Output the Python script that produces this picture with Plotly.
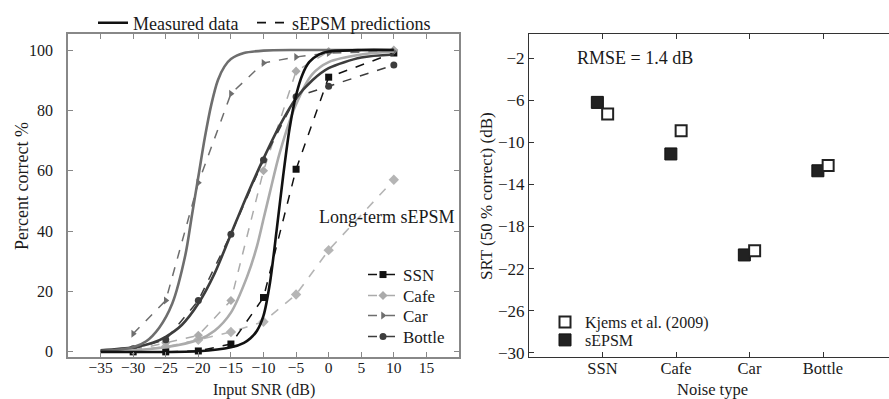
import plotly.graph_objects as go

# ---------------- data: left panel ----------------
noise_types = ["SSN", "Cafe", "Car", "Bottle"]

# measured psychometric functions (solid)
ssn_fit_snr = [-35, -20, -15, -13, -12, -11, -10, -9, -8, -7, -6, -5, -4, -3, -1.5, 0, 5, 10]
ssn_fit_pc = [0, 0.2, 1.5, 3, 4.5, 7, 12, 23, 40, 58, 74, 85, 92, 96, 98.5, 99.5, 100, 100]

cafe_fit_snr = [-35, -30, -25, -20, -17.5, -15, -12.5, -11, -10, -9, -7.5, -5, -2.5, 0, 5, 10]
cafe_fit_pc = [0.2, 0.5, 1.5, 4, 7, 13, 25, 35, 44, 53, 66, 82, 92, 96, 98.5, 99.5]

car_fit_snr = [-35, -32, -30, -28, -26, -24, -22, -21, -20, -19, -18, -17, -16, -15, -13, -10, -5, 0, 5, 10]
car_fit_pc = [0.3, 0.8, 1.5, 3.5, 8, 16, 32, 45, 58, 71, 82, 90, 94.5, 97, 99, 99.8, 100, 100, 100, 100]

bottle_fit_snr = [-35, -30, -27, -25, -22.5, -20, -17.5, -15, -12.5, -10, -7.5, -5, -2.5, 0, 5, 10]
bottle_fit_pc = [0.5, 1.5, 3, 5, 9, 16, 26, 39, 52, 64, 75, 84, 90, 94, 97.5, 98.5]

# sEPSM predictions (dashed with markers)
pred_snr = [-30, -25, -20, -15, -10, -5, 0, 10]
ssn_pred = [0, 0, 0.3, 2.6, 18, 60.5, 91, 99]
cafe_pred = [0.5, 3, 5.5, 17, 60, 93, 99.5, 100]
car_pred = [6, 17, 56, 85.5, 95.7, 97.7, 99, 99.5]
bottle_pred = [1, 4, 17, 39, 63.6, 84.5, 88, 95]
longterm_pred = [0.5, 1.7, 4, 6.6, 10, 19, 33.7, 57]

snr_ticks = [-35, -30, -25, -20, -15, -10, -5, 0, 5, 10, 15]
pc_ticks = [0, 20, 40, 60, 80, 100]

# ---------------- data: right panel ----------------
srt_kjems = [-7.3, -8.9, -20.3, -12.2]
srt_sepsm = [-6.2, -11.1, -20.7, -12.7]
srt_ticks = [-30, -26, -22, -18, -14, -10, -6, -2]

# ---------------- styles ----------------
SERIF = "Liberation Serif"
TXT = "#1a1a1a"
colors = {"SSN": "#111111", "Cafe": "#ababab", "Car": "#6e6e6e", "Bottle": "#3d3d3d"}
symbols = {"SSN": "square", "Cafe": "diamond", "Car": "triangle-right", "Bottle": "circle"}
fits = {
    "SSN": (ssn_fit_snr, ssn_fit_pc),
    "Cafe": (cafe_fit_snr, cafe_fit_pc),
    "Car": (car_fit_snr, car_fit_pc),
    "Bottle": (bottle_fit_snr, bottle_fit_pc),
}
preds = {"SSN": ssn_pred, "Cafe": cafe_pred, "Car": car_pred, "Bottle": bottle_pred}
pred_legend = {"SSN": ("legend3", 275), "Cafe": ("legend4", 296),
               "Car": ("legend5", 316), "Bottle": ("legend6", 337)}

W, H = 889, 399
def px_x(p):
    return p / W
def px_y(p):
    return 1 - p / H

fig = go.Figure()

fig.add_trace(go.Scatter(
    x=pred_snr, y=longterm_pred, mode="lines+markers", showlegend=False,
    line=dict(color="#b5b5b5", width=1.6, dash="dash"),
    marker=dict(symbol="diamond", size=8, color="#b5b5b5"),
    xaxis="x", yaxis="y"))

for nt in noise_types:
    fig.add_trace(go.Scatter(
        x=pred_snr, y=preds[nt], mode="lines+markers", name=nt,
        legend=pred_legend[nt][0],
        line=dict(color=colors[nt], width=1.5, dash="dash"),
        marker=dict(symbol=symbols[nt], size=7, color=colors[nt]),
        xaxis="x", yaxis="y"))

for nt in ["Cafe", "Bottle", "Car", "SSN"]:
    xs, ys = fits[nt]
    fig.add_trace(go.Scatter(
        x=xs, y=ys, mode="lines", showlegend=False,
        line=dict(color=colors[nt], width=2.6, shape="spline", smoothing=0.8),
        xaxis="x", yaxis="y"))

# top legend entries
fig.add_trace(go.Scatter(x=[None], y=[None], mode="lines", name="Measured data",
                         legend="legend", line=dict(color="#111", width=2.6),
                         xaxis="x", yaxis="y"))
fig.add_trace(go.Scatter(x=[None], y=[None], mode="lines", name="sEPSM predictions",
                         legend="legend2", line=dict(color="#111", width=1.8, dash="dash"),
                         xaxis="x", yaxis="y"))

# right panel
idx = list(range(1, len(noise_types) + 1))
OFF = 0.07
fig.add_trace(go.Scatter(
    x=[i - OFF for i in idx], y=srt_sepsm, mode="markers", name="sEPSM",
    legend="legend8",
    marker=dict(symbol="square", size=12, color="#222222", line=dict(color="#111", width=1)),
    xaxis="x2", yaxis="y2"))
fig.add_trace(go.Scatter(
    x=[i + OFF for i in idx], y=srt_kjems, mode="markers", name="Kjems et al. (2009)",
    legend="legend7",
    marker=dict(symbol="square", size=11, color="white", line=dict(color="#222", width=2)),
    xaxis="x2", yaxis="y2"))

ax_common = dict(ticks="inside", ticklen=5, showgrid=False, zeroline=False, showline=True,
                 automargin=False)

def ann(text, x, y, size, angle=0, xanchor="center"):
    return dict(text=text, xref="paper", yref="paper", x=px_x(x), y=px_y(y),
                xanchor=xanchor, yanchor="middle", showarrow=False, textangle=angle,
                font=dict(size=size, family=SERIF, color=TXT))

def leg(x, y, size):
    return dict(x=px_x(x), y=px_y(y), xanchor="left", yanchor="middle",
                bgcolor="rgba(0,0,0,0)", font=dict(size=size, family=SERIF, color=TXT))

layout_legends = {
    "legend": leg(93, 23, 18),
    "legend2": leg(252, 23, 18),
    "legend7": leg(545, 322, 16),
    "legend8": leg(545, 340, 16),
}
for nt in noise_types:
    name, yy = pred_legend[nt]
    layout_legends[name] = leg(363, yy, 17)

fig.update_layout(
    width=W, height=H,
    margin=dict(l=0, r=0, t=0, b=0),
    paper_bgcolor="white", plot_bgcolor="white",
    font=dict(family=SERIF, color=TXT, size=16),
    xaxis=dict(
        domain=[px_x(68), px_x(459)], range=[-40, 20],
        tickvals=snr_ticks, mirror="allticks", linecolor="#888", linewidth=1.5,
        tickcolor="#888", tickfont=dict(size=15.5, family=SERIF, color=TXT),
        ticklabelstandoff=-4,
        **ax_common),
    yaxis=dict(
        domain=[1 - 357 / H, 1 - 34 / H], range=[-1.7, 105.3],
        tickvals=pc_ticks, mirror="allticks", linecolor="#888", linewidth=1.5,
        tickcolor="#888", tickfont=dict(size=16, family=SERIF, color=TXT),
        ticklabelstandoff=10,
        **ax_common),
    xaxis2=dict(
        domain=[px_x(529), 1.0], range=[0, (W - 529) / 73.5],
        tickvals=idx, ticktext=noise_types, mirror="ticks", linecolor="#333", linewidth=1.2,
        tickcolor="#333", tickfont=dict(size=16.5, family=SERIF, color=TXT),
        ticklabelstandoff=-4,
        anchor="y2", **ax_common),
    yaxis2=dict(
        domain=[1 - 357 / H, 1 - 34 / H], range=[-30.4, 0.3],
        tickvals=srt_ticks, linecolor="#333", linewidth=1.2, tickcolor="#333",
        tickfont=dict(size=17, family=SERIF, color=TXT),
        anchor="x2", **ax_common),
    annotations=[
        ann("RMSE = 1.4 dB", 575, 58, 18, xanchor="left"),
        ann("Long-term sEPSM", 317, 217, 18, xanchor="left"),
        ann("Input SNR (dB)", 264, 389.5, 16),
        ann("Percent correct %", 22, 186, 18, angle=-90),
        ann("Noise type", 712, 389.5, 16.5),
        ann("SRT (50 % correct) (dB)", 486, 196, 17, angle=-90),
    ],
    **layout_legends,
)

fig.write_html("out.html", config={"displayModeBar": False},
               post_script="document.body.style.margin='0';")
